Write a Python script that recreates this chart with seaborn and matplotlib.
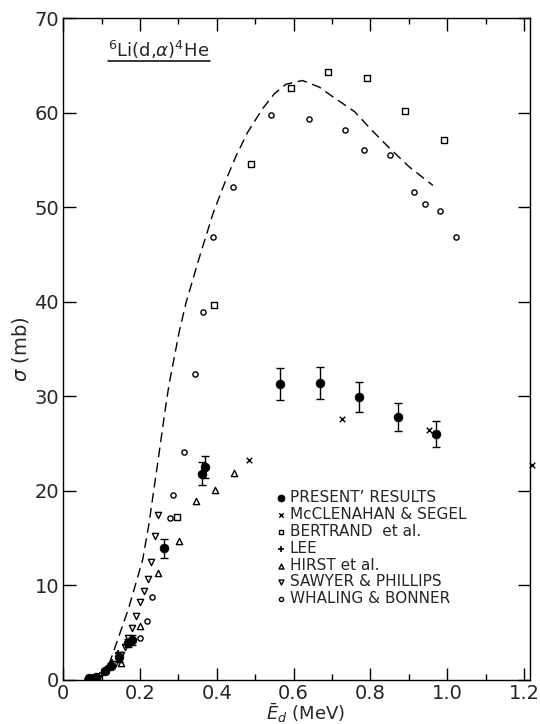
import numpy as np
import pandas as pd
import seaborn as sns
import matplotlib.pyplot as plt
from matplotlib.ticker import MultipleLocator

# ==============================================================
# DATA
# ==============================================================
present_x = [0.068, 0.085, 0.11, 0.125, 0.145, 0.170, 0.178, 0.262, 0.362, 0.369,
             0.565, 0.670, 0.770, 0.871, 0.971]
present_y = [0.2, 0.35, 0.9, 1.5, 2.4, 3.9, 4.2, 13.9, 21.8, 22.5,
             31.3, 31.4, 29.9, 27.8, 26.0]
present_err = [0.1, 0.1, 0.2, 0.3, 0.5, 0.4, 0.5, 1.0, 1.2, 1.2,
               1.7, 1.65, 1.6, 1.5, 1.4]

mcclen_x = [0.483, 0.726, 0.952, 1.222]
mcclen_y = [23.3, 27.6, 26.4, 22.7]

bertrand_x = [0.297, 0.393, 0.490, 0.592, 0.689, 0.790, 0.890, 0.992]
bertrand_y = [17.2, 39.7, 54.6, 62.6, 64.3, 63.7, 60.2, 57.1]

lee_x = [0.062, 0.075, 0.092, 0.10, 0.114, 0.127, 0.143]
lee_y = [0.1, 0.3, 0.4, 0.7, 1.2, 1.9, 2.8]

hirst_x = [0.093, 0.151, 0.199, 0.248, 0.302, 0.347, 0.395, 0.444]
hirst_y = [0.0, 1.8, 5.7, 11.3, 14.7, 18.9, 20.1, 21.9]

sawyer_x = [0.117, 0.134, 0.150, 0.160, 0.170, 0.180, 0.190, 0.200, 0.210,
            0.220, 0.229, 0.239, 0.248]
sawyer_y = [1.1, 1.7, 2.6, 3.5, 4.4, 5.5, 6.8, 8.2, 9.4,
            10.7, 12.5, 15.2, 17.4]

whaling_x = [0.199, 0.218, 0.231, 0.278, 0.287, 0.314, 0.343, 0.364, 0.390,
             0.441, 0.541, 0.641, 0.733, 0.783, 0.852, 0.914, 0.942, 0.981, 1.023]
whaling_y = [4.4, 6.2, 8.8, 17.1, 19.6, 24.1, 32.4, 38.9, 46.8,
             52.1, 59.7, 59.3, 58.2, 56.0, 55.5, 51.6, 50.3, 49.6, 46.8]

# dashed theory curve
curve_x = [0.100, 0.120, 0.139, 0.169, 0.190, 0.207, 0.223, 0.245, 0.265, 0.2755,
           0.302, 0.320, 0.354, 0.390, 0.420, 0.450, 0.480, 0.519, 0.550, 0.580,
           0.623, 0.667, 0.705, 0.759, 0.800, 0.841, 0.900, 0.963]
curve_y = [0.2, 1.7, 3.9, 7.4, 10.3, 12.7, 16.4, 22.6, 28.4, 31.2,
           36.8, 39.9, 44.6, 49.3, 52.5, 55.4, 57.9, 60.4, 62.0, 63.0,
           63.4, 62.7, 61.6, 60.1, 58.3, 56.6, 54.3, 52.3]

labels = ["PRESENT\u02bc RESULTS", "McCLENAHAN & SEGEL", "BERTRAND  et al.",
          "LEE", "HIRST et al.", "SAWYER & PHILLIPS", "WHALING & BONNER"]

# ==============================================================
# PLOT
# ==============================================================
sns.set_style("ticks")
plt.rcParams['font.family'] = ['DejaVu Sans']
plt.rcParams['mathtext.fontset'] = 'dejavusans'

fig = plt.figure(figsize=(5.4, 7.24), dpi=100)
ax = fig.add_axes([0.117, 0.061, 0.864, 0.914])

curve = pd.DataFrame({'E': curve_x, 'sigma': curve_y})
sns.lineplot(data=curve, x='E', y='sigma', ax=ax, color='black', lw=1.0,
             sort=False, linestyle=(0, (7, 4)))

ax.errorbar(present_x, present_y, yerr=present_err, fmt='none', ecolor='black',
            elinewidth=1.0, capsize=3, capthick=1.0, label='_nolegend_')

sns.scatterplot(x=present_x, y=present_y, ax=ax, marker='o', s=40, color='black',
                edgecolor='black', label=labels[0], zorder=4)
sns.scatterplot(x=mcclen_x, y=mcclen_y, ax=ax, marker='x', s=16, color='black',
                linewidth=1.0, label=labels[1], clip_on=False)
sns.scatterplot(x=bertrand_x, y=bertrand_y, ax=ax, marker='s', s=16, color='white',
                edgecolor='black', linewidth=1.0, label=labels[2])
sns.scatterplot(x=lee_x, y=lee_y, ax=ax, marker='+', s=25, color='black',
                linewidth=1.2, label=labels[3])
sns.scatterplot(x=hirst_x, y=hirst_y, ax=ax, marker='^', s=20, color='white',
                edgecolor='black', linewidth=1.0, label=labels[4])
sns.scatterplot(x=sawyer_x, y=sawyer_y, ax=ax, marker='v', s=20, color='white',
                edgecolor='black', linewidth=1.0, label=labels[5])
sns.scatterplot(x=whaling_x, y=whaling_y, ax=ax, marker='o', s=14, color='white',
                edgecolor='black', linewidth=1.0, label=labels[6])

ax.set_xlim(0, 1.215)
ax.set_ylim(0, 70)
ax.xaxis.set_major_locator(MultipleLocator(0.2))
ax.xaxis.set_minor_locator(MultipleLocator(0.1))
ax.yaxis.set_major_locator(MultipleLocator(10))
ax.xaxis.set_major_formatter(plt.FuncFormatter(lambda v, p: '0' if v == 0 else f'{v:.1f}'))
ax.tick_params(which='both', direction='in', top=True, right=True,
               labelsize=14, width=1.0, color='black', pad=3)
ax.tick_params(which='major', length=9)
ax.tick_params(which='minor', length=4)
for sp in ax.spines.values():
    sp.set_linewidth(1.0)
    sp.set_color('black')

ax.set_xlabel(r'$\bar{E}_d$ (MeV)', fontsize=13)
ax.xaxis.set_label_coords(0.52, -0.033)
ax.set_ylabel(r'$\sigma$ (mb)', fontsize=14, labelpad=2)

ax.text(0.097, 0.941, r'$^6$Li(d,$\alpha$)$^4$He', transform=ax.transAxes,
        fontsize=13, ha='left', va='baseline')
ax.plot([0.097, 0.315], [0.935, 0.935], transform=ax.transAxes, color='black', lw=1.1)

ax.legend(loc='upper left', bbox_to_anchor=(0.44, 0.298), frameon=False,
          fontsize=11, handlelength=0.6, handletextpad=0.3, labelspacing=0.12,
          borderpad=0, markerscale=0.8)

fig.savefig('out.png', dpi=100, facecolor='white')
